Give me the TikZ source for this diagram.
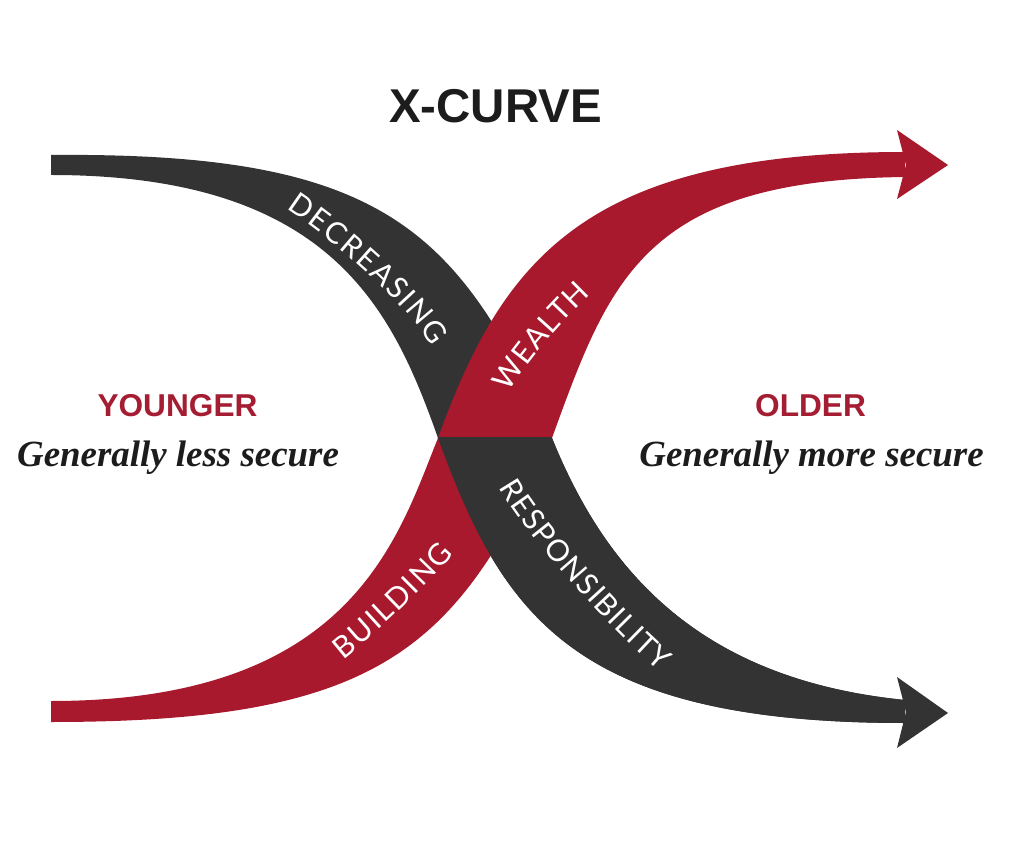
\documentclass[tikz,border=0pt]{standalone}
\usepackage{fontspec}
\usetikzlibrary{decorations.text}
\newfontfamily\headfont{Liberation Sans}
\newfontfamily\subfont{Liberation Serif}
\newfontfamily\bandfont{Lato}
\definecolor{bandred}{HTML}{A8192E}
\definecolor{banddark}{HTML}{333333}
\definecolor{agered}{HTML}{A51D32}
\definecolor{titlecol}{HTML}{1C1C1C}

\newcommand\redbandpath{(51,701) .. controls (351,701) and (397,540) .. (438,438) .. controls (503,259) and (585,152) .. (905,152) -- (905,177) .. controls (645,180) and (610,278) .. (552,438) .. controls (458,648) and (381,722) .. (51,722) -- cycle}

\newcommand\darkbandpath{(51,155) .. controls (381,152) and (458,228) .. (552,438) .. controls (608,577) and (705,680) .. (905,700) -- (905,723) .. controls (575,723) and (503,617) .. (438,438) .. controls (392,308) and (330,175) .. (51,175) -- cycle}

\tikzset{
  titletext/.style={inner sep=0pt, anchor=base, text=titlecol, font=\headfont\bfseries\fontsize{27}{32}\selectfont},
  agetext/.style={inner sep=0pt, anchor=base, text=agered, font=\headfont\bfseries\fontsize{18}{22}\selectfont},
  subtext/.style={inner sep=0pt, anchor=base, text=titlecol, font=\subfont\bfseries\itshape\fontsize{21}{25}\selectfont},
  bandlabel/.style={decorate, decoration={text along path, text={|\bandfont\fontsize{17}{20}\selectfont\color{white}|#1}, text align=fit to path}}
}

\begin{document}
\begin{tikzpicture}[x=0.02cm, y=-0.02cm]
\useasboundingbox (0,0) rectangle (1024,854);
\fill[white] (0,0) rectangle (1024,854);

% bands: red over dark in the upper half, dark over red in the lower half
\fill[banddark] \darkbandpath;
\fill[bandred] \redbandpath;
\begin{scope}
  \clip (0,438) rectangle (1024,854);
  \fill[banddark] \darkbandpath;
\end{scope}

% arrow heads
\fill[bandred] (897,130) -- (948,165) -- (897,199) -- (906,165) -- cycle;
\fill[banddark] (897,677) -- (948,713) -- (897,748) -- (906,712) -- cycle;

% band labels
\path[bandlabel=DECREASING] (286,209) .. controls (329,237) and (406,302) .. (432,347);
\path[bandlabel=WEALTH] (509,393) .. controls (527,360) and (563,321) .. (591,294);
\path[bandlabel=BUILDING] (343,660) .. controls (377,633) and (426,586) .. (454,554);
\path[bandlabel=RESPONSIBILITY] (499,487) .. controls (524,533) and (617,637) .. (660,671);

% texts
\node[titletext] (title) at (495.5,123) {X-CURVE};
\node[agetext] (younger) at (177.5,417) {YOUNGER};
\node[subtext] (lesssecure) at (178,467) {Generally less secure};
\node[agetext] (older) at (810.5,417) {OLDER};
\node[subtext] (moresecure) at (811.5,467) {Generally more secure};
\end{tikzpicture}
\end{document}
